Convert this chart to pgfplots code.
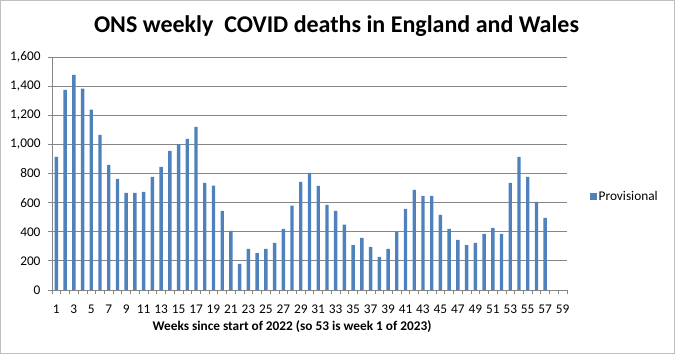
\documentclass[border=0pt]{standalone}
\usepackage{pgfplots}
\pgfplotsset{compat=1.18}
\usepackage{fontspec}
\setmainfont{Carlito}
\definecolor{barblue}{HTML}{4F81BD}
\definecolor{gridgray}{HTML}{868686}
\definecolor{framegray}{HTML}{BFBFBF}
\begin{document}
\begin{tikzpicture}[x=1bp,y=1bp]
\draw[framegray, line width=1bp] (0.5,0.5) rectangle (674.5,353.5);
\begin{axis}[
  at={(52bp,64bp)}, anchor=south west,
  scale only axis, width=515bp, height=233bp,
  xmin=0.5, xmax=59.5, ymin=0, ymax=1600,
  axis x line*=bottom, axis y line*=left,
  axis line style={gridgray, line width=0.8bp},
  ytick={0,200,...,1600},
  ymajorgrids, grid style={gridgray, line width=0.8bp},
  xtick={1,3,...,59},
  minor xtick={0.5,1.5,...,59.5},
  major x tick style={draw=none},
  tick style={gridgray, line width=0.8bp},
  major tick length=4bp, minor tick length=4bp, tick align=outside,
  /pgf/number format/assume math mode=true,
  /pgf/number format/1000 sep={,},
  ticklabel style={font=\fontsize{13.3bp}{15bp}\selectfont, text=black},
  xticklabel style={yshift=-7bp},
  yticklabel style={xshift=-4bp},
  ybar, bar width=3.4bp,
  legend style={at={(rel axis cs:1.0447,0.402)}, anchor=west, draw=none, fill=none,
    font=\fontsize{13.3bp}{15bp}\selectfont, inner sep=0pt,
    nodes={inner xsep=2bp}},
  legend image code/.code={\fill[barblue] (0bp,-3.3bp) rectangle (6.5bp,3.3bp);},
]
\addplot[fill=barblue, draw=none] coordinates {
(1,915) (2,1375) (3,1478) (4,1382) (5,1238) (6,1066) (7,860) (8,763) (9,667) (10,667)
(11,674) (12,777) (13,846) (14,956) (15,1002) (16,1038) (17,1121) (18,736) (19,717) (20,543)
(21,406) (22,179) (23,282) (24,254) (25,282) (26,323) (27,419) (28,580) (29,743) (30,804)
(31,715) (32,584) (33,543) (34,449) (35,309) (36,358) (37,296) (38,227) (39,282) (40,399)
(41,557) (42,688) (43,646) (44,646) (45,516) (46,419) (47,344) (48,309) (49,323) (50,385)
(51,426) (52,385) (53,736) (54,914) (55,777) (56,605) (57,495)
};
\addlegendentry{Provisional}
\end{axis}
\node[font=\fontsize{24bp}{28bp}\selectfont\bfseries] at (336.5,328) {ONS weekly\ \ COVID deaths in England and Wales};
\node[font=\fontsize{13.3bp}{15bp}\selectfont\bfseries] at (292,27) {Weeks since start of 2022 (so 53 is week 1 of 2023)};
\pgfresetboundingbox
\path (0,0) rectangle (675,354);
\end{tikzpicture}
\end{document}
